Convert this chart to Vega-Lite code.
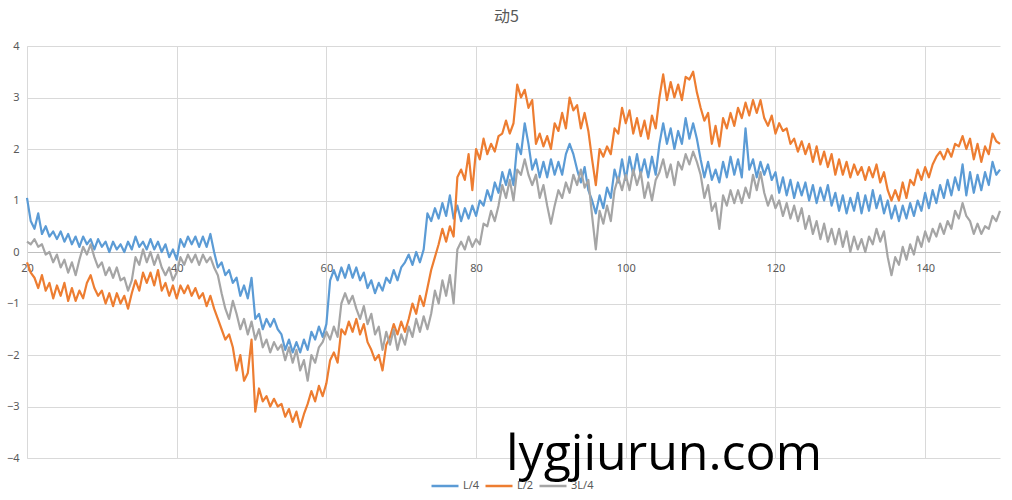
{
"$schema": "https://vega.github.io/schema/vega-lite/v6.json",
"width": 973, "height": 412,
"autosize": {"type": "none"},
"padding": {"left": 27, "top": 46, "right": 12, "bottom": 42},
"background": "white",
"config": {"view": {"stroke": null}},
"title": {"text": "动5", "font": "Noto Sans CJK SC", "fontSize": 16, "fontWeight": "normal", "color": "#595959", "offset": 15, "frame": "group", "anchor": "middle", "dx": -7},
"layer": [
{
"data": {"values": [
{"x":20,"L/4":1.05,"L/2":-0.2,"3L/4":0.2},
{"x":20.5,"L/4":0.6,"L/2":-0.4,"3L/4":0.15},
{"x":21,"L/4":0.45,"L/2":-0.5,"3L/4":0.25},
{"x":21.5,"L/4":0.75,"L/2":-0.7,"3L/4":0.1},
{"x":22,"L/4":0.35,"L/2":-0.45,"3L/4":0.15},
{"x":22.5,"L/4":0.5,"L/2":-0.75,"3L/4":-0.05},
{"x":23,"L/4":0.3,"L/2":-0.6,"3L/4":0.0},
{"x":23.5,"L/4":0.4,"L/2":-0.9,"3L/4":-0.2},
{"x":24,"L/4":0.25,"L/2":-0.65,"3L/4":-0.05},
{"x":24.5,"L/4":0.4,"L/2":-0.85,"3L/4":-0.3},
{"x":25,"L/4":0.2,"L/2":-0.6,"3L/4":-0.15},
{"x":25.5,"L/4":0.35,"L/2":-0.95,"3L/4":-0.4},
{"x":26,"L/4":0.15,"L/2":-0.7,"3L/4":-0.2},
{"x":26.5,"L/4":0.3,"L/2":-0.95,"3L/4":-0.45},
{"x":27,"L/4":0.1,"L/2":-0.75,"3L/4":-0.15},
{"x":27.5,"L/4":0.3,"L/2":-0.9,"3L/4":0.1},
{"x":28,"L/4":0.15,"L/2":-0.6,"3L/4":-0.05},
{"x":28.5,"L/4":0.25,"L/2":-0.45,"3L/4":0.15},
{"x":29,"L/4":0.05,"L/2":-0.7,"3L/4":-0.1},
{"x":29.5,"L/4":0.25,"L/2":-0.85,"3L/4":-0.3},
{"x":30,"L/4":0.1,"L/2":-0.75,"3L/4":-0.2},
{"x":30.5,"L/4":0.2,"L/2":-1.0,"3L/4":-0.45},
{"x":31,"L/4":0.0,"L/2":-0.8,"3L/4":-0.3},
{"x":31.5,"L/4":0.2,"L/2":-1.05,"3L/4":-0.5},
{"x":32,"L/4":0.05,"L/2":-0.8,"3L/4":-0.3},
{"x":32.5,"L/4":0.15,"L/2":-1.0,"3L/4":-0.55},
{"x":33,"L/4":0.0,"L/2":-0.85,"3L/4":-0.5},
{"x":33.5,"L/4":0.2,"L/2":-1.1,"3L/4":-0.75},
{"x":34,"L/4":0.05,"L/2":-0.8,"3L/4":-0.55},
{"x":34.5,"L/4":0.3,"L/2":-0.55,"3L/4":-0.1},
{"x":35,"L/4":0.1,"L/2":-0.75,"3L/4":-0.25},
{"x":35.5,"L/4":0.2,"L/2":-0.4,"3L/4":0.05},
{"x":36,"L/4":0.05,"L/2":-0.6,"3L/4":-0.2},
{"x":36.5,"L/4":0.25,"L/2":-0.4,"3L/4":0.0},
{"x":37,"L/4":0.05,"L/2":-0.65,"3L/4":-0.25},
{"x":37.5,"L/4":0.2,"L/2":-0.35,"3L/4":-0.05},
{"x":38,"L/4":0.0,"L/2":-0.75,"3L/4":-0.3},
{"x":38.5,"L/4":0.15,"L/2":-0.6,"3L/4":-0.45},
{"x":39,"L/4":-0.1,"L/2":-0.85,"3L/4":-0.3},
{"x":39.5,"L/4":0.05,"L/2":-0.65,"3L/4":-0.55},
{"x":40,"L/4":-0.15,"L/2":-0.9,"3L/4":-0.4},
{"x":40.5,"L/4":0.25,"L/2":-0.65,"3L/4":-0.1},
{"x":41,"L/4":0.1,"L/2":-0.8,"3L/4":-0.25},
{"x":41.5,"L/4":0.3,"L/2":-0.65,"3L/4":-0.05},
{"x":42,"L/4":0.15,"L/2":-0.85,"3L/4":-0.2},
{"x":42.5,"L/4":0.3,"L/2":-0.7,"3L/4":-0.05},
{"x":43,"L/4":0.1,"L/2":-0.9,"3L/4":-0.25},
{"x":43.5,"L/4":0.3,"L/2":-0.8,"3L/4":-0.05},
{"x":44,"L/4":0.1,"L/2":-1.05,"3L/4":-0.2},
{"x":44.5,"L/4":0.35,"L/2":-0.85,"3L/4":-0.1},
{"x":45,"L/4":0.0,"L/2":-1.1,"3L/4":-0.3},
{"x":45.5,"L/4":-0.3,"L/2":-1.3,"3L/4":-0.45},
{"x":46,"L/4":-0.2,"L/2":-1.5,"3L/4":-0.8},
{"x":46.5,"L/4":-0.45,"L/2":-1.7,"3L/4":-1.1},
{"x":47,"L/4":-0.35,"L/2":-1.6,"3L/4":-1.3},
{"x":47.5,"L/4":-0.6,"L/2":-1.85,"3L/4":-0.95},
{"x":48,"L/4":-0.5,"L/2":-2.3,"3L/4":-1.2},
{"x":48.5,"L/4":-0.85,"L/2":-2.0,"3L/4":-1.5},
{"x":49,"L/4":-0.65,"L/2":-2.5,"3L/4":-1.3},
{"x":49.5,"L/4":-0.9,"L/2":-2.35,"3L/4":-1.6},
{"x":50,"L/4":-0.5,"L/2":-1.7,"3L/4":-1.35},
{"x":50.5,"L/4":-1.3,"L/2":-3.1,"3L/4":-1.7},
{"x":51,"L/4":-1.2,"L/2":-2.65,"3L/4":-1.5},
{"x":51.5,"L/4":-1.5,"L/2":-2.9,"3L/4":-1.85},
{"x":52,"L/4":-1.3,"L/2":-2.8,"3L/4":-1.7},
{"x":52.5,"L/4":-1.45,"L/2":-3.0,"3L/4":-1.95},
{"x":53,"L/4":-1.3,"L/2":-2.85,"3L/4":-1.75},
{"x":53.5,"L/4":-1.5,"L/2":-3.0,"3L/4":-1.9},
{"x":54,"L/4":-1.6,"L/2":-2.95,"3L/4":-1.8},
{"x":54.5,"L/4":-1.9,"L/2":-3.2,"3L/4":-2.1},
{"x":55,"L/4":-1.7,"L/2":-3.05,"3L/4":-1.85},
{"x":55.5,"L/4":-1.95,"L/2":-3.3,"3L/4":-2.15},
{"x":56,"L/4":-1.75,"L/2":-3.1,"3L/4":-1.9},
{"x":56.5,"L/4":-1.95,"L/2":-3.4,"3L/4":-2.3},
{"x":57,"L/4":-1.7,"L/2":-3.15,"3L/4":-2.1},
{"x":57.5,"L/4":-1.9,"L/2":-2.95,"3L/4":-2.5},
{"x":58,"L/4":-1.55,"L/2":-2.7,"3L/4":-2.0},
{"x":58.5,"L/4":-1.7,"L/2":-2.9,"3L/4":-2.15},
{"x":59,"L/4":-1.45,"L/2":-2.6,"3L/4":-1.85},
{"x":59.5,"L/4":-1.65,"L/2":-2.8,"3L/4":-1.75},
{"x":60,"L/4":-1.4,"L/2":-2.55,"3L/4":-1.55},
{"x":60.5,"L/4":-0.55,"L/2":-2.1,"3L/4":-1.7},
{"x":61,"L/4":-0.35,"L/2":-1.95,"3L/4":-1.45},
{"x":61.5,"L/4":-0.55,"L/2":-2.15,"3L/4":-1.65},
{"x":62,"L/4":-0.3,"L/2":-1.5,"3L/4":-1.0},
{"x":62.5,"L/4":-0.5,"L/2":-1.6,"3L/4":-0.8},
{"x":63,"L/4":-0.25,"L/2":-1.35,"3L/4":-1.0},
{"x":63.5,"L/4":-0.5,"L/2":-1.55,"3L/4":-0.85},
{"x":64,"L/4":-0.3,"L/2":-1.3,"3L/4":-1.1},
{"x":64.5,"L/4":-0.55,"L/2":-1.6,"3L/4":-1.3},
{"x":65,"L/4":-0.4,"L/2":-1.4,"3L/4":-1.05},
{"x":65.5,"L/4":-0.7,"L/2":-1.75,"3L/4":-1.4},
{"x":66,"L/4":-0.55,"L/2":-1.9,"3L/4":-1.2},
{"x":66.5,"L/4":-0.8,"L/2":-2.1,"3L/4":-1.6},
{"x":67,"L/4":-0.6,"L/2":-2.0,"3L/4":-1.45},
{"x":67.5,"L/4":-0.75,"L/2":-2.3,"3L/4":-1.9},
{"x":68,"L/4":-0.5,"L/2":-1.8,"3L/4":-1.55},
{"x":68.5,"L/4":-0.6,"L/2":-1.65,"3L/4":-1.8},
{"x":69,"L/4":-0.35,"L/2":-1.4,"3L/4":-1.5},
{"x":69.5,"L/4":-0.55,"L/2":-1.6,"3L/4":-1.9},
{"x":70,"L/4":-0.3,"L/2":-1.35,"3L/4":-1.6},
{"x":70.5,"L/4":-0.2,"L/2":-1.55,"3L/4":-1.8},
{"x":71,"L/4":-0.05,"L/2":-1.3,"3L/4":-1.45},
{"x":71.5,"L/4":-0.25,"L/2":-1.0,"3L/4":-1.65},
{"x":72,"L/4":0.0,"L/2":-1.2,"3L/4":-1.3},
{"x":72.5,"L/4":-0.2,"L/2":-0.85,"3L/4":-1.55},
{"x":73,"L/4":0.05,"L/2":-1.05,"3L/4":-1.25},
{"x":73.5,"L/4":0.75,"L/2":-0.7,"3L/4":-1.5},
{"x":74,"L/4":0.6,"L/2":-0.35,"3L/4":-1.2},
{"x":74.5,"L/4":0.85,"L/2":-0.1,"3L/4":-0.75},
{"x":75,"L/4":0.65,"L/2":0.15,"3L/4":-1.0},
{"x":75.5,"L/4":0.95,"L/2":0.45,"3L/4":-0.55},
{"x":76,"L/4":0.7,"L/2":0.2,"3L/4":-0.85},
{"x":76.5,"L/4":1.1,"L/2":0.5,"3L/4":-0.45},
{"x":77,"L/4":0.65,"L/2":0.3,"3L/4":-1.0},
{"x":77.5,"L/4":0.9,"L/2":1.45,"3L/4":0.05},
{"x":78,"L/4":0.6,"L/2":1.6,"3L/4":0.2},
{"x":78.5,"L/4":0.85,"L/2":1.4,"3L/4":0.05},
{"x":79,"L/4":0.65,"L/2":1.9,"3L/4":0.3},
{"x":79.5,"L/4":0.9,"L/2":1.2,"3L/4":0.1},
{"x":80,"L/4":0.7,"L/2":2.0,"3L/4":0.25},
{"x":80.5,"L/4":1.0,"L/2":1.8,"3L/4":0.15},
{"x":81,"L/4":0.9,"L/2":2.2,"3L/4":0.55},
{"x":81.5,"L/4":1.2,"L/2":1.9,"3L/4":0.5},
{"x":82,"L/4":1.0,"L/2":2.1,"3L/4":0.8},
{"x":82.5,"L/4":1.35,"L/2":1.95,"3L/4":0.6},
{"x":83,"L/4":1.15,"L/2":2.25,"3L/4":0.9},
{"x":83.5,"L/4":1.55,"L/2":2.3,"3L/4":1.3},
{"x":84,"L/4":1.3,"L/2":2.55,"3L/4":1.05},
{"x":84.5,"L/4":1.6,"L/2":2.3,"3L/4":1.4},
{"x":85,"L/4":1.3,"L/2":2.5,"3L/4":1.0},
{"x":85.5,"L/4":2.1,"L/2":3.25,"3L/4":1.6},
{"x":86,"L/4":1.9,"L/2":3.0,"3L/4":1.5},
{"x":86.5,"L/4":2.5,"L/2":3.15,"3L/4":1.8},
{"x":87,"L/4":2.1,"L/2":2.8,"3L/4":1.5},
{"x":87.5,"L/4":1.6,"L/2":2.95,"3L/4":1.3},
{"x":88,"L/4":1.8,"L/2":2.1,"3L/4":1.5},
{"x":88.5,"L/4":1.45,"L/2":2.3,"3L/4":1.05},
{"x":89,"L/4":1.75,"L/2":2.05,"3L/4":1.3},
{"x":89.5,"L/4":1.45,"L/2":2.25,"3L/4":0.9},
{"x":90,"L/4":1.8,"L/2":2.0,"3L/4":0.55},
{"x":90.5,"L/4":1.5,"L/2":2.5,"3L/4":0.9},
{"x":91,"L/4":1.75,"L/2":2.35,"3L/4":1.2},
{"x":91.5,"L/4":1.5,"L/2":2.7,"3L/4":1.05},
{"x":92,"L/4":1.9,"L/2":2.4,"3L/4":1.35},
{"x":92.5,"L/4":2.1,"L/2":3.0,"3L/4":1.15},
{"x":93,"L/4":1.9,"L/2":2.75,"3L/4":1.5},
{"x":93.5,"L/4":1.6,"L/2":2.85,"3L/4":1.3},
{"x":94,"L/4":1.35,"L/2":2.4,"3L/4":1.6},
{"x":94.5,"L/4":1.65,"L/2":2.7,"3L/4":1.25},
{"x":95,"L/4":1.2,"L/2":2.35,"3L/4":1.4},
{"x":95.5,"L/4":1.0,"L/2":1.8,"3L/4":0.7},
{"x":96,"L/4":0.75,"L/2":1.3,"3L/4":0.05},
{"x":96.5,"L/4":1.1,"L/2":2.0,"3L/4":0.8},
{"x":97,"L/4":0.85,"L/2":1.85,"3L/4":0.55},
{"x":97.5,"L/4":1.25,"L/2":2.05,"3L/4":0.9},
{"x":98,"L/4":1.05,"L/2":1.9,"3L/4":0.6},
{"x":98.5,"L/4":1.6,"L/2":2.4,"3L/4":1.2},
{"x":99,"L/4":1.35,"L/2":2.3,"3L/4":1.45},
{"x":99.5,"L/4":1.8,"L/2":2.8,"3L/4":1.2},
{"x":100,"L/4":1.4,"L/2":2.5,"3L/4":1.5},
{"x":100.5,"L/4":1.85,"L/2":2.75,"3L/4":1.2},
{"x":101,"L/4":1.5,"L/2":2.3,"3L/4":1.6},
{"x":101.5,"L/4":1.9,"L/2":2.6,"3L/4":1.3},
{"x":102,"L/4":1.5,"L/2":2.25,"3L/4":1.55},
{"x":102.5,"L/4":1.8,"L/2":2.55,"3L/4":1.05},
{"x":103,"L/4":1.45,"L/2":2.2,"3L/4":1.35},
{"x":103.5,"L/4":1.85,"L/2":2.65,"3L/4":1.0},
{"x":104,"L/4":1.5,"L/2":2.4,"3L/4":1.4},
{"x":104.5,"L/4":2.1,"L/2":3.0,"3L/4":1.55},
{"x":105,"L/4":2.5,"L/2":3.45,"3L/4":1.8},
{"x":105.5,"L/4":2.1,"L/2":2.95,"3L/4":1.45},
{"x":106,"L/4":2.4,"L/2":3.3,"3L/4":1.7},
{"x":106.5,"L/4":2.0,"L/2":3.0,"3L/4":1.3},
{"x":107,"L/4":2.35,"L/2":3.25,"3L/4":1.75},
{"x":107.5,"L/4":2.1,"L/2":2.95,"3L/4":1.6},
{"x":108,"L/4":2.6,"L/2":3.4,"3L/4":1.9},
{"x":108.5,"L/4":2.2,"L/2":3.35,"3L/4":1.7},
{"x":109,"L/4":2.5,"L/2":3.5,"3L/4":1.95},
{"x":109.5,"L/4":2.2,"L/2":3.1,"3L/4":1.75},
{"x":110,"L/4":1.8,"L/2":2.8,"3L/4":1.5},
{"x":110.5,"L/4":1.45,"L/2":2.55,"3L/4":1.05},
{"x":111,"L/4":1.75,"L/2":2.7,"3L/4":1.3},
{"x":111.5,"L/4":1.4,"L/2":2.1,"3L/4":0.8},
{"x":112,"L/4":1.6,"L/2":2.45,"3L/4":0.95},
{"x":112.5,"L/4":1.35,"L/2":2.05,"3L/4":0.45},
{"x":113,"L/4":1.75,"L/2":2.6,"3L/4":1.1},
{"x":113.5,"L/4":1.45,"L/2":2.4,"3L/4":0.9},
{"x":114,"L/4":1.85,"L/2":2.7,"3L/4":1.2},
{"x":114.5,"L/4":1.5,"L/2":2.45,"3L/4":0.95},
{"x":115,"L/4":1.8,"L/2":2.8,"3L/4":1.2},
{"x":115.5,"L/4":1.45,"L/2":2.6,"3L/4":0.95},
{"x":116,"L/4":2.4,"L/2":2.9,"3L/4":1.25},
{"x":116.5,"L/4":1.6,"L/2":2.65,"3L/4":1.05},
{"x":117,"L/4":1.8,"L/2":2.95,"3L/4":1.5},
{"x":117.5,"L/4":1.45,"L/2":2.7,"3L/4":1.2},
{"x":118,"L/4":1.75,"L/2":2.95,"3L/4":1.55},
{"x":118.5,"L/4":1.5,"L/2":2.6,"3L/4":1.15},
{"x":119,"L/4":1.7,"L/2":2.45,"3L/4":0.9},
{"x":119.5,"L/4":1.4,"L/2":2.65,"3L/4":1.1},
{"x":120,"L/4":1.55,"L/2":2.3,"3L/4":0.85},
{"x":120.5,"L/4":1.15,"L/2":2.5,"3L/4":1.0},
{"x":121,"L/4":1.45,"L/2":2.35,"3L/4":0.7},
{"x":121.5,"L/4":1.1,"L/2":2.4,"3L/4":0.95},
{"x":122,"L/4":1.4,"L/2":2.1,"3L/4":0.65},
{"x":122.5,"L/4":1.05,"L/2":2.2,"3L/4":0.9},
{"x":123,"L/4":1.35,"L/2":1.95,"3L/4":0.6},
{"x":123.5,"L/4":1.1,"L/2":2.15,"3L/4":0.85},
{"x":124,"L/4":1.35,"L/2":1.9,"3L/4":0.45},
{"x":124.5,"L/4":1.0,"L/2":2.1,"3L/4":0.7},
{"x":125,"L/4":1.3,"L/2":1.75,"3L/4":0.35},
{"x":125.5,"L/4":0.95,"L/2":2.05,"3L/4":0.6},
{"x":126,"L/4":1.25,"L/2":1.7,"3L/4":0.25},
{"x":126.5,"L/4":1.0,"L/2":1.95,"3L/4":0.55},
{"x":127,"L/4":1.3,"L/2":1.65,"3L/4":0.2},
{"x":127.5,"L/4":0.9,"L/2":1.9,"3L/4":0.45},
{"x":128,"L/4":1.15,"L/2":1.5,"3L/4":0.15},
{"x":128.5,"L/4":0.8,"L/2":1.8,"3L/4":0.45},
{"x":129,"L/4":1.1,"L/2":1.5,"3L/4":0.1},
{"x":129.5,"L/4":0.75,"L/2":1.75,"3L/4":0.4},
{"x":130,"L/4":1.05,"L/2":1.45,"3L/4":0.0},
{"x":130.5,"L/4":0.8,"L/2":1.7,"3L/4":0.3},
{"x":131,"L/4":1.15,"L/2":1.5,"3L/4":0.05},
{"x":131.5,"L/4":0.75,"L/2":1.65,"3L/4":0.25},
{"x":132,"L/4":1.1,"L/2":1.4,"3L/4":0.0},
{"x":132.5,"L/4":0.8,"L/2":1.65,"3L/4":0.3},
{"x":133,"L/4":1.2,"L/2":1.45,"3L/4":0.15},
{"x":133.5,"L/4":0.85,"L/2":1.7,"3L/4":0.45},
{"x":134,"L/4":1.1,"L/2":1.35,"3L/4":0.2},
{"x":134.5,"L/4":0.75,"L/2":1.55,"3L/4":0.4},
{"x":135,"L/4":1.0,"L/2":1.2,"3L/4":-0.1},
{"x":135.5,"L/4":0.65,"L/2":1.0,"3L/4":-0.45},
{"x":136,"L/4":0.9,"L/2":1.2,"3L/4":-0.1},
{"x":136.5,"L/4":0.6,"L/2":1.0,"3L/4":-0.25},
{"x":137,"L/4":0.9,"L/2":1.35,"3L/4":0.1},
{"x":137.5,"L/4":0.65,"L/2":1.05,"3L/4":-0.15},
{"x":138,"L/4":0.95,"L/2":1.4,"3L/4":0.15},
{"x":138.5,"L/4":0.7,"L/2":1.3,"3L/4":-0.05},
{"x":139,"L/4":1.0,"L/2":1.6,"3L/4":0.3},
{"x":139.5,"L/4":0.8,"L/2":1.4,"3L/4":0.1},
{"x":140,"L/4":1.15,"L/2":1.65,"3L/4":0.4},
{"x":140.5,"L/4":0.85,"L/2":1.45,"3L/4":0.2},
{"x":141,"L/4":1.2,"L/2":1.7,"3L/4":0.45},
{"x":141.5,"L/4":0.95,"L/2":1.85,"3L/4":0.3},
{"x":142,"L/4":1.3,"L/2":1.95,"3L/4":0.55},
{"x":142.5,"L/4":1.05,"L/2":1.8,"3L/4":0.35},
{"x":143,"L/4":1.4,"L/2":2.0,"3L/4":0.6},
{"x":143.5,"L/4":1.1,"L/2":1.85,"3L/4":0.45},
{"x":144,"L/4":1.45,"L/2":2.1,"3L/4":0.8},
{"x":144.5,"L/4":1.2,"L/2":2.05,"3L/4":0.65},
{"x":145,"L/4":1.7,"L/2":2.25,"3L/4":0.95},
{"x":145.5,"L/4":1.1,"L/2":2.0,"3L/4":0.7},
{"x":146,"L/4":1.55,"L/2":2.2,"3L/4":0.6},
{"x":146.5,"L/4":1.15,"L/2":1.8,"3L/4":0.35},
{"x":147,"L/4":1.5,"L/2":2.1,"3L/4":0.55},
{"x":147.5,"L/4":1.2,"L/2":1.75,"3L/4":0.35},
{"x":148,"L/4":1.55,"L/2":2.05,"3L/4":0.5},
{"x":148.5,"L/4":1.3,"L/2":1.9,"3L/4":0.45},
{"x":149,"L/4":1.75,"L/2":2.3,"3L/4":0.7},
{"x":149.5,"L/4":1.5,"L/2":2.15,"3L/4":0.6},
{"x":150,"L/4":1.6,"L/2":2.1,"3L/4":0.8}
]},
"transform": [{"fold": ["L/4", "L/2", "3L/4"], "as": ["series", "v"]}],
"mark": {"type": "line", "strokeWidth": 2.2, "strokeJoin": "round"},
"encoding": {
"x": {"field": "x", "type": "quantitative", "scale": {"domain": [20, 150], "nice": false, "zero": false},
"axis": {"title": null, "values": [20, 40, 60, 80, 100, 120, 140], "offset": -206, "grid": true, "gridColor": "#d9d9d9", "gridWidth": 1, "domainColor": "#bfbfbf", "domainWidth": 1.2, "ticks": false, "labelPadding": 10, "labelFlush": false, "labelFont": "Noto Sans", "labelFontSize": 11, "labelColor": "#595959"}},
"y": {"field": "v", "type": "quantitative", "scale": {"domain": [-4, 4], "nice": false, "zero": false},
"axis": {"title": null, "values": [-4, -3, -2, -1, 0, 1, 2, 3, 4], "grid": true, "gridColor": "#d9d9d9", "gridWidth": 1, "domainColor": "#d9d9d9", "ticks": false, "labelPadding": 8, "labelFlush": false, "labelFont": "Noto Sans", "labelFontSize": 11, "labelColor": "#595959"}},
"color": {"field": "series", "type": "nominal", "scale": {"domain": ["L/4", "L/2", "3L/4"], "range": ["#5B9BD5", "#ED7D31", "#A5A5A5"]},
"legend": {"title": null, "orient": "none", "legendX": 403, "legendY": 425, "direction": "horizontal", "symbolType": "stroke", "symbolSize": 729, "symbolStrokeWidth": 2.5, "labelFont": "Noto Sans", "labelFontSize": 11, "labelColor": "#595959", "labelOffset": 3, "columnPadding": 0, "padding": 0}}
}
},
{
"data": {"values": [{"t": "lygjiurun.com", "x": 105.1, "y": -4.23}]},
"mark": {"type": "text", "font": "Open Sans", "fontSize": 50, "color": "black", "align": "center", "baseline": "alphabetic"},
"encoding": {
"x": {"field": "x", "type": "quantitative"},
"y": {"field": "y", "type": "quantitative"},
"text": {"field": "t"}
}
}
]
}
